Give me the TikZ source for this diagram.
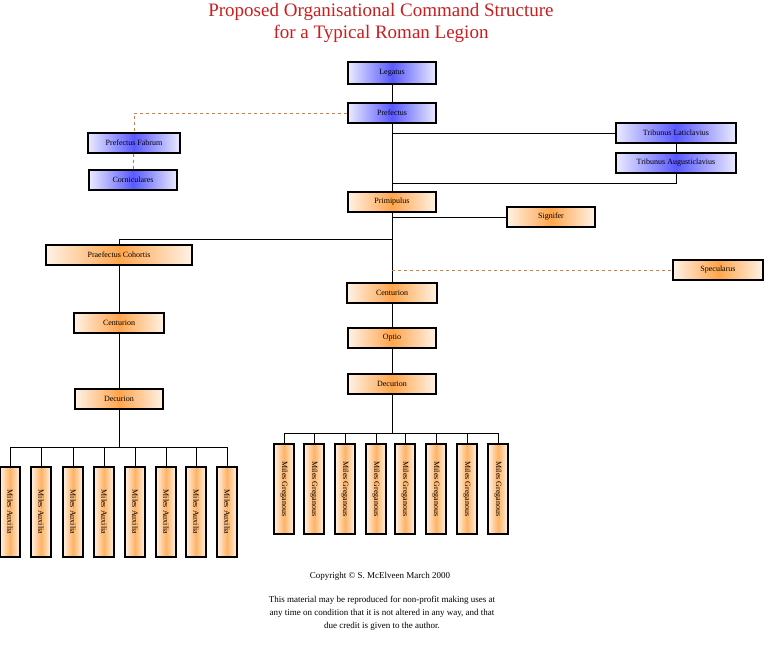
\documentclass[tikz,border=0pt]{standalone}
\usepackage{fontspec}
\setmainfont{Liberation Serif}
\usepackage{graphicx}
\usetikzlibrary{calc}
\definecolor{titlered}{RGB}{200,30,30}
\definecolor{dashbrown}{RGB}{190,130,80}

\tikzset{
  rank/.style={draw=black, line width=1.8pt, minimum height=20pt, inner sep=1pt,
    font=\fontsize{8}{9}\selectfont},
  blue rank/.style={rank, left color=blue!8, right color=blue!8, middle color=blue!65},
  orange rank/.style={rank, left color=orange!10, right color=orange!10, middle color=orange!70},
  miles/.style={draw=black, line width=1.8pt, minimum width=20pt, minimum height=90pt,
    inner sep=0pt, left color=orange!10, right color=orange!10, middle color=orange!60,
    font=\fontsize{8}{9}\selectfont},
  link/.style={line width=0.8pt},
  aide/.style={line width=1pt, dashed, draw=dashbrown}
}

\begin{document}
\begin{tikzpicture}[x=1pt, y=-1pt]
  \useasboundingbox (0,0) rectangle (770,645);

  % title
  \node[text=titlered, font=\fontsize{19}{22}\selectfont, align=center] (title) at (381,23)
    {Proposed Organisational Command Structure\\for a Typical Roman Legion};

  % blue ranks
  \node[blue rank, minimum width=88pt, minimum height=22pt] (legatus) at (392,73) {Legatus};
  \node[blue rank, minimum width=88pt] (prefectus) at (392,113) {Prefectus};
  \node[blue rank, minimum width=92pt] (fabrum) at (134,143) {Prefectus Fabrum};
  \node[blue rank, minimum width=88pt] (corniculares) at (133,180) {Corniculares};
  \node[blue rank, minimum width=120pt] (laticlavius) at (676,133) {Tribunus Laticlavius};
  \node[blue rank, minimum width=120pt] (augusticlavius) at (676,163) {Tribunus Augusticlavius};

  % orange ranks
  \node[orange rank, minimum width=88pt] (primipulus) at (392,202) {Primipulus};
  \node[orange rank, minimum width=88pt] (signifer) at (551,217) {Signifer};
  \node[orange rank, minimum width=146pt] (cohortis) at (119,255) {Praefectus Cohortis};
  \node[orange rank, minimum width=90pt] (specularus) at (718,270) {Specularus};
  \node[orange rank, minimum width=90pt] (centurion) at (392,293) {Centurion};
  \node[orange rank, minimum width=88pt] (optio) at (392,338) {Optio};
  \node[orange rank, minimum width=88pt] (decurion) at (392,384) {Decurion};
  \node[orange rank, minimum width=90pt] (centurionL) at (119,323) {Centurion};
  \node[orange rank, minimum width=88pt] (decurionL) at (119,399) {Decurion};

  % main line
  \draw[link] (legatus) -- (prefectus) -- (primipulus) -- (centurion) -- (optio) -- (decurion);
  \draw[link] (prefectus.south |- laticlavius.west) -- (laticlavius.west);
  \draw[link] (laticlavius) -- (augusticlavius);
  \draw[link] (augusticlavius.south) -- ++(0,9) coordinate (tb) -- (tb -| prefectus.south);
  \draw[link] (primipulus.south |- signifer.west) -- (signifer.west);
  \draw[link] ($(primipulus.south)+(0,26)$) coordinate (pc) -- (pc -| cohortis.north) -- (cohortis.north);
  \draw[link] (cohortis) -- (centurionL) -- (decurionL);
  \draw[aide] (prefectus.west) -| (fabrum.north);
  \draw[aide] (fabrum) -- (corniculares);
  \draw[aide] (primipulus.south |- specularus.west) -- (specularus.west);

  % milites
  \foreach \x [count=\i] in {10,41,73,104,135,166,196,227}{
    \node[miles, anchor=north] (aux\i) at (\x,466) {\rotatebox{-90}{Miles Auxilia}};
    \draw[link] (aux\i.north) -- ++(0,-19);
  }
  \draw[link] (decurionL) -- (119,447);
  \draw[link] (aux1.north) ++(0,-19) -- ($(aux8.north)+(0,-19)$);
  \foreach \x [count=\i] in {284,314,345,376,405,436,467,498}{
    \node[miles, anchor=north] (greg\i) at (\x,443) {\rotatebox{-90}{Miles Greganous}};
    \draw[link] (greg\i.north) -- ++(0,-10);
  }
  \draw[link] (decurion) -- (392,433);
  \draw[link] (greg1.north) ++(0,-10) -- ($(greg8.north)+(0,-10)$);

  % copyright
  \node[font=\fontsize{9}{10}\selectfont] (copy) at (380,576) {Copyright \copyright\ S. McElveen March 2000};
  \node[font=\fontsize{9}{13}\selectfont, align=center] (terms) at (382,613)
    {This material may be reproduced for non-profit making uses at\\
     any time on condition that it is not altered in any way, and that\\
     due credit is given to the author.};
\end{tikzpicture}
\end{document}
